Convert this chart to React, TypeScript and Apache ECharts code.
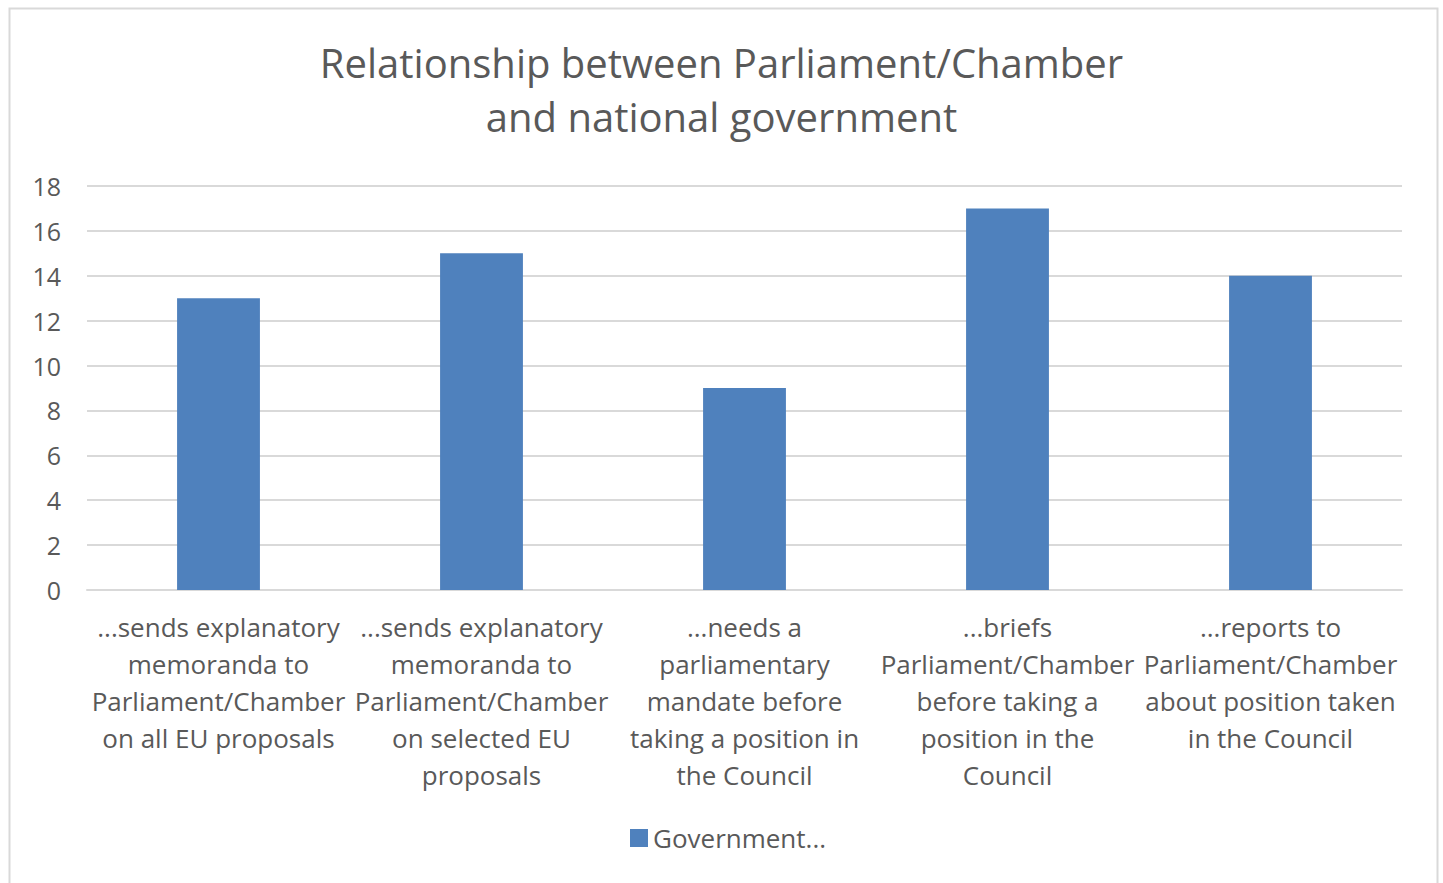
import React, { useEffect, useRef } from "react";
import * as echarts from "echarts";

const categories: string[] = [
  "...sends explanatory\nmemoranda to\nParliament/Chamber\non all EU proposals",
  "...sends explanatory\nmemoranda to\nParliament/Chamber\non selected EU\nproposals",
  "...needs a\nparliamentary\nmandate before\ntaking a position in\nthe Council",
  "...briefs\nParliament/Chamber\nbefore taking a\nposition in the\nCouncil",
  "...reports to\nParliament/Chamber\nabout position taken\nin the Council",
];
const values: number[] = [13, 15, 9, 17, 14];
const seriesName = "Government...";
const titleText = "Relationship between Parliament/Chamber\nand national government";

const FONT = "'Open Sans', 'Liberation Sans', sans-serif";

export default function App() {
  const ref = useRef<HTMLDivElement>(null);
  useEffect(() => {
    if (!ref.current) return;
    const chart = echarts.init(ref.current, null, { renderer: "svg" });
    chart.setOption({
      animation: false,
      backgroundColor: "#ffffff",
      graphic: [
        {
          type: "rect",
          shape: { x: 9.5, y: 8.5, width: 1428, height: 880 },
          style: { fill: "none", stroke: "#d9d9d9", lineWidth: 2 },
          silent: true,
        },
      ],
      title: {
        text: titleText,
        left: "center",
        top: 30,
        textStyle: {
          fontFamily: FONT,
          fontSize: 40,
          fontWeight: "normal",
          color: "#595959",
          lineHeight: 54,
        },
      },
      legend: {
        bottom: 27,
        left: 625,
        itemWidth: 18,
        itemHeight: 18,
        itemGap: 8,
        icon: "rect",
        textStyle: { fontFamily: FONT, fontSize: 26, color: "#595959" },
        data: [seriesName],
      },
      grid: { left: 87, right: 41, top: 186, bottom: 293, containLabel: false },
      xAxis: {
        type: "category",
        data: categories,
        axisLine: { show: true, lineStyle: { color: "#d9d9d9", width: 2 } },
        axisTick: { show: false },
        axisLabel: {
          interval: 0,
          fontFamily: FONT,
          fontSize: 26,
          color: "#595959",
          lineHeight: 37,
          margin: 18,
          verticalAlign: "top",
        },
      },
      yAxis: {
        type: "value",
        min: 0,
        max: 18,
        interval: 2,
        axisLine: { show: false },
        axisTick: { show: false },
        splitLine: { lineStyle: { color: "#d9d9d9", width: 2 } },
        axisLabel: { fontFamily: FONT, fontSize: 25, color: "#595959", margin: 26 },
      },
      series: [
        {
          name: seriesName,
          type: "bar",
          data: values,
          barWidth: "31.5%",
          itemStyle: { color: "#4f81bd" },
        },
      ],
    });
    return () => chart.dispose();
  }, []);
  return (
    <div
      ref={ref}
      style={{ position: "fixed", left: 0, top: 0, width: 1443, height: 883 }}
    />
  );
}
